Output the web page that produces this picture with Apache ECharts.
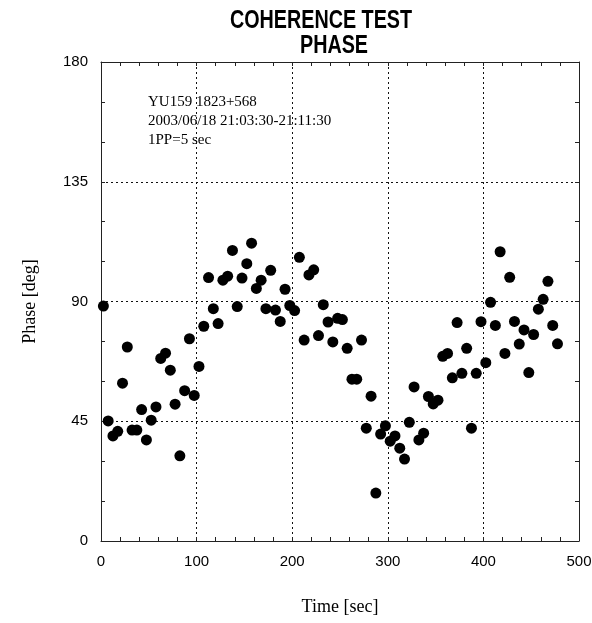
<!DOCTYPE html>
<html><head><meta charset="utf-8">
<script src="https://cdn.jsdelivr.net/npm/echarts@6/dist/echarts.min.js"></script>
<style>html,body{margin:0;padding:0;background:#fff}#c{width:592px;height:623px}</style>
</head><body><div id="c"></div>
<script>
const times = [2.5,7.5,12.5,17.5,22.5,27.5,32.5,37.5,42.5,47.5,52.5,57.5,62.5,67.5,72.5,77.5,82.5,87.5,92.5,97.5,
102.5,107.5,112.5,117.5,122.5,127.5,132.5,137.5,142.5,147.5,152.5,157.5,162.5,167.5,172.5,177.5,182.5,187.5,192.5,197.5,
202.5,207.5,212.5,217.5,222.5,227.5,232.5,237.5,242.5,247.5,252.5,257.5,262.5,267.5,272.5,277.5,282.5,287.5,292.5,297.5,
302.5,307.5,312.5,317.5,322.5,327.5,332.5,337.5,342.5,347.5,352.5,357.5,362.5,367.5,372.5,377.5,382.5,387.5,392.5,397.5,
402.5,407.5,412.5,417.5,422.5,427.5,432.5,437.5,442.5,447.5,452.5,457.5,462.5,467.5,472.5,477.5];
const phases = [88.3,45.1,39.5,41.2,59.3,72.9,41.7,41.7,49.4,38.0,45.4,50.4,68.6,70.6,64.2,51.4,32.0,56.5,76.0,54.7,
65.6,80.7,99.0,87.3,81.7,98.0,99.5,109.2,88.1,98.8,104.2,111.9,94.9,98.0,87.3,101.7,86.8,82.5,94.6,88.5,
86.6,106.6,75.5,100.0,101.9,77.2,88.8,82.3,74.8,83.7,83.2,72.4,60.8,60.8,75.5,42.4,54.4,18.0,40.2,43.3,
37.5,39.5,34.9,30.8,44.6,57.9,38.0,40.5,54.3,51.5,52.9,69.4,70.5,61.3,82.1,63.0,72.4,42.4,63.0,82.4,
67.0,89.7,81.0,108.7,70.5,99.1,82.5,74.0,79.3,63.3,77.6,87.1,90.8,97.6,81.0,74.1];
const titleLine1 = 'COHERENCE TEST';
const titleLine2 = 'PHASE';
const infoLines = ['YU159 1823+568','2003/06/18 21:03:30-21:11:30','1PP=5 sec'];
const xName = 'Time [sec]';
const yName = 'Phase [deg]';

const chart = echarts.init(document.getElementById('c'));
const frame = {show:true, onZero:false, lineStyle:{color:'#222', width:1}};
const noLine = {show:false, onZero:false};
const inTick = {show:true, inside:true, length:4, lineStyle:{color:'#222', width:1}};
const grid = {show:true, lineStyle:{color:'#111', type:[2,3], width:1}};
const labelFont = {fontFamily:'"Liberation Sans",Arial,sans-serif', fontSize:15, color:'#000', margin:13};
const nameFont = {fontFamily:'"Liberation Serif",serif', fontSize:18, color:'#000'};
const titleFont = 'bold 25px "Liberation Sans", Arial, sans-serif';
chart.setOption({
  animation:false,
  graphic:[
    {type:'text', x:321, y:21, scaleX:0.79, style:{text:titleLine1, font:titleFont, fill:'#000', align:'center', verticalAlign:'middle'}},
    {type:'text', x:334, y:46, scaleX:0.79, style:{text:titleLine2, font:titleFont, fill:'#000', align:'center', verticalAlign:'middle'}},
    {type:'text', left:148, top:93, style:{text:infoLines.join('\n'), font:'15px "Liberation Serif", serif', lineHeight:19, fill:'#000'}}
  ],
  grid:{left:101, top:62, width:478, height:479, outerBoundsMode:'none', containLabel:false},
  xAxis:[
    {type:'value', min:0, max:500, interval:100, name:xName, nameLocation:'middle', nameGap:57,
      nameTextStyle:nameFont, axisLine:frame, axisTick:{show:false}, axisLabel:labelFont, splitLine:grid},
    {type:'value', position:'bottom', min:0, max:500, interval:20, axisLine:noLine, axisTick:inTick,
      axisLabel:{show:false}, splitLine:{show:false}},
    {type:'value', position:'top', min:0, max:500, interval:20, axisLine:frame, axisTick:inTick,
      axisLabel:{show:false}, splitLine:{show:false}}
  ],
  yAxis:[
    {type:'value', min:0, max:180, interval:45, name:yName, nameLocation:'middle', nameGap:62,
      nameTextStyle:nameFont, axisLine:frame, axisTick:{show:false}, axisLabel:labelFont, splitLine:grid},
    {type:'value', position:'left', min:0, max:180, interval:15, axisLine:noLine, axisTick:inTick,
      axisLabel:{show:false}, splitLine:{show:false}},
    {type:'value', position:'right', min:0, max:180, interval:15, axisLine:frame, axisTick:inTick,
      axisLabel:{show:false}, splitLine:{show:false}}
  ],
  series:[{type:'scatter', xAxisIndex:0, yAxisIndex:0, symbol:'circle', symbolSize:11,
    itemStyle:{color:'#000', opacity:1},
    data: times.map((t,i)=>[t, phases[i]])}]
});
</script></body></html>
